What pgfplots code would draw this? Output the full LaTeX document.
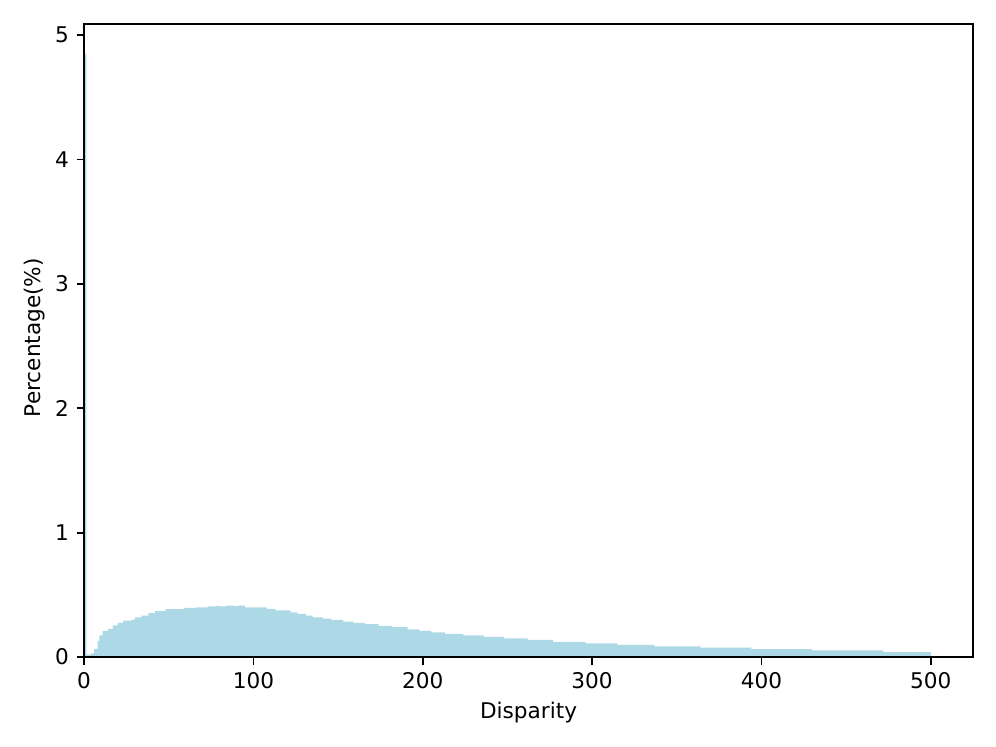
\documentclass[border=0pt]{standalone}
\usepackage{pgfplots}
\pgfplotsset{compat=1.18}
\usepackage{fontspec}
\setmainfont{DejaVu Sans}
\definecolor{lightblue}{HTML}{ADD8E6}
\begin{document}
\fontsize{10pt}{12pt}\selectfont
\begin{tikzpicture}
\useasboundingbox (-38.9pt,-41.6pt) rectangle (421.9pt,304pt);
\begin{axis}[
  scale only axis,
  width=411.3pt, height=292.9pt,
  xmin=0, xmax=525, ymin=0, ymax=5.09,
  xtick={0,100,200,300,400,500},
  ytick={0,1,2,3,4,5},
  tick pos=left,
  tick align=outside,
  major tick length=3.5pt,
  tick style={black, line width=0.8pt},
  axis line style={line width=0.8pt},
  /pgf/number format/assume math mode=true,
  ticklabel style={font=\fontsize{10pt}{12pt}\selectfont},
  xlabel={Disparity},
  ylabel={Percentage(\%)},
  label style={font=\fontsize{10pt}{12pt}\selectfont},
  every axis x label/.style={at={(axis description cs:0.5,-0.0877)}, anchor=center},
  every axis y label/.style={at={(axis description cs:-0.0562,0.5047)}, anchor=center, rotate=90},
  axis on top,
]
\addplot[fill=lightblue, draw=none, const plot] coordinates {
(0,4.85) (1.3,0.02) (4,0.03) (6,0.067) (8,0.13) (9,0.174) (11,0.21) (14,0.227)
(17,0.254) (20,0.276) (23,0.294) (28,0.302) (30,0.32) (34,0.334) (38,0.353)
(42,0.37) (48,0.385) (59,0.396) (66,0.40) (73,0.407) (78,0.412) (80,0.407)
(84,0.413) (88,0.409) (91,0.414) (95,0.40) (100,0.40) (108,0.388) (113,0.375)
(122,0.36) (126,0.348) (131,0.334) (135,0.32) (141,0.31) (146,0.30) (153,0.286)
(159,0.276) (166,0.265) (174,0.25) (182,0.24) (191,0.222) (198,0.211)
(205,0.198) (213,0.187) (224,0.174) (236,0.163) (248,0.150) (262,0.139)
(277,0.123) (296,0.110) (315,0.099) (337,0.086) (364,0.077) (394,0.064)
(430,0.054) (472,0.040) (500,0.040)
} \closedcycle;
\end{axis}
\end{tikzpicture}
\end{document}
